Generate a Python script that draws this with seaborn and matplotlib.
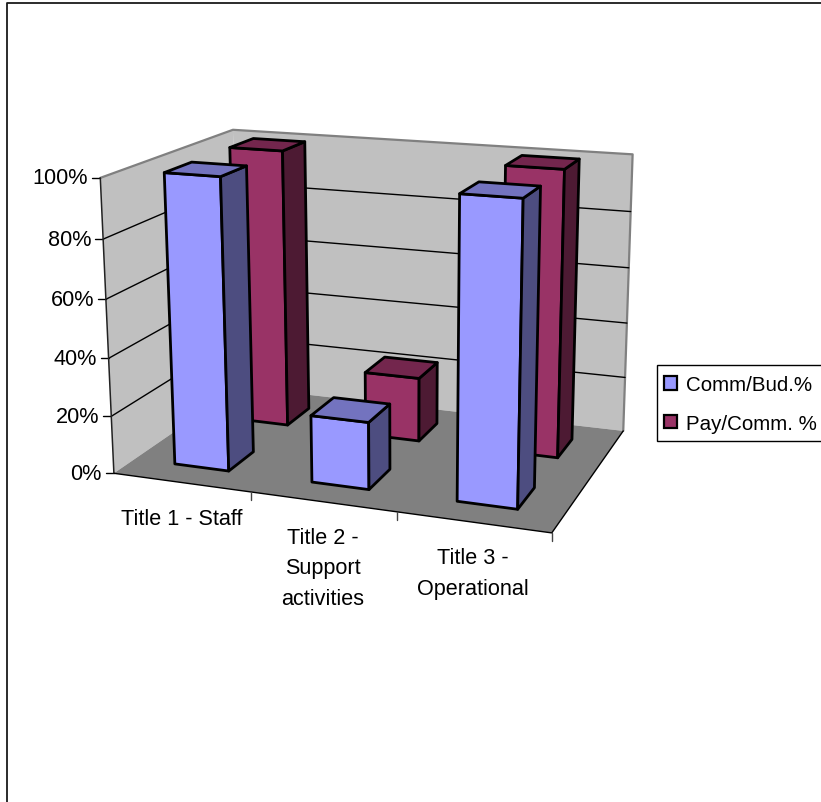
import numpy as np
import matplotlib
matplotlib.use("Agg")
import matplotlib.pyplot as plt
from matplotlib.patches import Patch, Polygon, Rectangle
import seaborn as sns

# Chart content
categories = ["Title 1 - Staff", "Title 2 -\nSupport\nactivities", "Title 3 -\nOperational"]
series_names = ["Comm/Bud.%", "Pay/Comm. %"]
comm_bud = [100, 23, 100]
pay_comm = [100, 23, 100]
y_ticks = [0, 20, 40, 60, 80, 100]

# Face shades per series: front, side, top
front_colors = ["#9999FF", "#993366"]
side_colors = ["#4D4D80", "#4D1A33"]
top_colors = ["#7373BF", "#73264D"]
WALL = "#C0C0C0"
FLOOR = "#808080"
EDGE = "#808080"

# Camera calibration: box corners (category, depth, value fraction) -> canvas pixels
box_pts = np.array([
    [0, 0, 0], [3, 0, 0], [3, 1, 0], [0, 1, 0],
    [0, 0, 1], [3, 1, 1], [0, 1, 1],
], dtype=float)
canvas_pts = np.array([
    [113.5, 475], [552, 533], [623, 433], [240, 387],
    [100.5, 179], [632.7, 155], [232.7, 131],
], dtype=float)


def fit_camera(src, dst):
    rows = []
    for (x, y, z), (u, v) in zip(src, dst):
        rows.append([x, y, z, 1, 0, 0, 0, 0, -u * x, -u * y, -u * z, -u])
        rows.append([0, 0, 0, 0, x, y, z, 1, -v * x, -v * y, -v * z, -v])
    return np.linalg.svd(np.array(rows))[2][-1].reshape(3, 4)


CAM = fit_camera(box_pts, canvas_pts)


def proj(x, y, z):
    p = CAM @ np.array([x, y, z, 1.0])
    return p[0] / p[2], p[1] / p[2]


def quad(*corners):
    return [proj(*c) for c in corners]


sns.set_theme(style="white")
plt.rcParams["font.family"] = ["Liberation Sans", "DejaVu Sans"]
FS = 15.6
LEGEND_FS = 14.8

fig = plt.figure(figsize=(8.21, 8.03), dpi=100, facecolor="white")
ax = fig.add_axes([0, 0, 1, 1])
ax.set_xlim(0, 821)
ax.set_ylim(803, 0)
ax.axis("off")

# Outer chart-area border
ax.plot([6.5, 6.5, 821], [803, 3.5, 3.5], color="#1a1a1a", lw=1.3, zorder=1)

# Walls and floor
ax.add_patch(Polygon(quad((0, 0, 0), (0, 1, 0), (0, 1, 1), (0, 0, 1)), fc=WALL, ec="none", zorder=2))
ax.add_patch(Polygon(quad((0, 1, 0), (3, 1, 0), (3, 1, 1), (0, 1, 1)), fc=WALL, ec="none", zorder=2))
ax.add_patch(Polygon(quad((0, 0, 0), (3, 0, 0), (3, 1, 0), (0, 1, 0)), fc=FLOOR, ec="none", zorder=2))

# Wall outline
outline = np.array(quad((0, 0, 1), (0, 1, 1), (3, 1, 1), (3, 1, 0)))
ax.plot(outline[:, 0], outline[:, 1], color=EDGE, lw=1.6, zorder=3)

# Gridlines on both walls and the value axis
for t in y_ticks:
    z = t / 100
    if 0 < t < 100:
        g = np.array(quad((0, 0, z), (0, 1, z), (3, 1, z)))
        ax.plot(g[:, 0], g[:, 1], color="black", lw=1.0, zorder=3)
    tx, ty = proj(0, 0, z)
    ax.plot([tx - 8, tx], [ty, ty], color="black", lw=1.0, zorder=3)
    ax.text(tx - 12, ty, f"{t}%", ha="right", va="center", fontsize=FS, color="black")

ax_line = np.array(quad((0, 0, 0), (0, 0, 1)))
ax.plot(ax_line[:, 0], ax_line[:, 1], color="#222222", lw=1.1, zorder=3)

# Floor edges and category ticks
edge = np.array(quad((0, 0, 0), (3, 0, 0), (3, 1, 0)))
ax.plot(edge[:, 0], edge[:, 1], color="black", lw=1.0, zorder=3)
for i in range(1, 4):
    bx, by = proj(i, 0, 0)
    ax.plot([bx, bx], [by, by + 8], color="#444444", lw=1.0, zorder=3)

# Category labels sit below the front edge
for i, label in enumerate(categories):
    lx, ly = proj(i + 0.5, 0, 0)
    ax.text(lx, ly + 25, label, ha="center", va="top", fontsize=FS, color="black",
            linespacing=1.6, multialignment="center")

# Bars, back row first so the front row overlaps it
BAR_W = 0.4
BAR_D = 0.2
values = [comm_bud, pay_comm]
depth_start = [0.15, 0.65]
z = 5
for s in (1, 0):
    y0, y1 = depth_start[s], depth_start[s] + BAR_D
    for c, v in enumerate(values[s]):
        x0, x1 = c + 0.3, c + 0.3 + BAR_W
        h = v / 100
        faces = [
            (quad((x0, y0, 0), (x1, y0, 0), (x1, y0, h), (x0, y0, h)), front_colors[s]),
            (quad((x1, y0, 0), (x1, y1, 0), (x1, y1, h), (x1, y0, h)), side_colors[s]),
            (quad((x0, y0, h), (x1, y0, h), (x1, y1, h), (x0, y1, h)), top_colors[s]),
        ]
        for pts, col in faces:
            ax.add_patch(Polygon(pts, fc=col, ec="black", lw=2.0, joinstyle="round", zorder=z))
        z += 1

# Legend box and its entries
ax.add_patch(Rectangle((656.5, 365.5), 170, 76, fc="white", ec="black", lw=1.0, zorder=4))
handles = [Patch(fc=front_colors[i], ec="black", lw=1.6, label=series_names[i]) for i in range(2)]
fig.legend(handles=handles, loc="upper left", bbox_to_anchor=(664 / 821, 1 - 376.4 / 803),
           bbox_transform=fig.transFigure, fontsize=LEGEND_FS, frameon=False, borderaxespad=0,
           handlelength=0.63, handleheight=0.63, handletextpad=0.42, labelspacing=0.94,
           borderpad=0, labelcolor="black")

fig.savefig("out.png", dpi=100)
